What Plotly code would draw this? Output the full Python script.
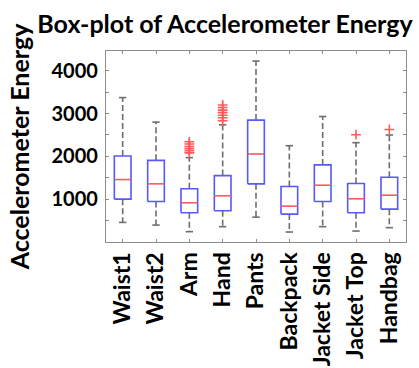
import plotly.graph_objects as go

categories = ["Waist1", "Waist2", "Arm", "Hand", "Pants", "Backpack", "Jacket Side", "Jacket Top", "Handbag"]
q1 = [1000, 947, 683, 730, 1358, 651, 947, 683, 767]
median = [1458, 1358, 916, 1079, 2055, 837, 1326, 1009, 1093]
q3 = [2009, 1907, 1242, 1551, 2847, 1295, 1800, 1365, 1512]
lower_whisker = [458, 395, 241, 358, 581, 233, 358, 256, 335]
upper_whisker = [3372, 2800, 1970, 2737, 4225, 2249, 2930, 2319, 2498]
outliers = {
    "Arm": [2080, 2130, 2180, 2230, 2290, 2340],
    "Hand": [2830, 2900, 2960, 3020, 3080, 3140, 3200],
    "Jacket Top": [2505],
    "Handbag": [2628],
}

BOX_HALF = 0.25
CAP_HALF = 0.11
BLUE = "#5858ff"
RED = "#ff5a5a"
GRAY = "#6e6e6e"

bx, by, mx, my, wx, wy, cx, cy = [], [], [], [], [], [], [], []
for i, c in enumerate(categories):
    p = i + 1
    bx += [p - BOX_HALF, p + BOX_HALF, p + BOX_HALF, p - BOX_HALF, p - BOX_HALF, None]
    by += [q1[i], q1[i], q3[i], q3[i], q1[i], None]
    mx += [p - BOX_HALF, p + BOX_HALF, None]
    my += [median[i], median[i], None]
    wx += [p, p, None, p, p, None]
    wy += [q3[i], upper_whisker[i], None, q1[i], lower_whisker[i], None]
    cx += [p - CAP_HALF, p + CAP_HALF, None, p - CAP_HALF, p + CAP_HALF, None]
    cy += [upper_whisker[i], upper_whisker[i], None, lower_whisker[i], lower_whisker[i], None]

ox, oy = [], []
for c, vals in outliers.items():
    p = categories.index(c) + 1
    for v in vals:
        ox.append(p)
        oy.append(v)

fig = go.Figure()
fig.add_trace(go.Scatter(x=wx, y=wy, mode="lines", line=dict(color=GRAY, width=1.6, dash="6px,3px"), hoverinfo="skip"))
fig.add_trace(go.Scatter(x=cx, y=cy, mode="lines", line=dict(color=GRAY, width=1.6), hoverinfo="skip"))
fig.add_trace(go.Scatter(x=bx, y=by, mode="lines", line=dict(color=BLUE, width=1.6), hoverinfo="skip"))
fig.add_trace(go.Scatter(x=mx, y=my, mode="lines", line=dict(color=RED, width=1.6), hoverinfo="skip"))
fig.add_trace(go.Scatter(x=ox, y=oy, mode="markers",
                         marker=dict(symbol="cross-thin-open", size=7, color=RED, line=dict(color=RED, width=1.6)),
                         hoverinfo="skip"))

font_family = "Lato"
fig.update_layout(
    width=419, height=368,
    margin=dict(l=106, r=13, t=51, b=126, autoexpand=False),
    paper_bgcolor="white", plot_bgcolor="white",
    showlegend=False,
    title=dict(text="<b>Box-plot of Accelerometer Energy</b>", x=0.537, xanchor="center",
               y=0.935, yanchor="middle", automargin=False,
               font=dict(family=font_family, size=25, color="black")),
    font=dict(family=font_family, color="black"),
)
fig.update_xaxes(
    range=[0.5, len(categories) + 0.5],
    tickmode="array", tickvals=list(range(1, len(categories) + 1)),
    ticktext=[f"<b>{c}</b>" for c in categories],
    tickangle=-90, tickfont=dict(family=font_family, size=23, color="black"),
    showline=True, linecolor="#8c8c8c", linewidth=1.2, mirror="ticks",
    ticks="inside", ticklen=3, tickcolor="#8c8c8c",
    showgrid=False, zeroline=False, automargin=False,
)
fig.update_yaxes(
    range=[0, 4460],
    tickmode="array", tickvals=[1000, 2000, 3000, 4000],
    ticktext=["<b>1000</b>", "<b>2000</b>", "<b>3000</b>", "<b>4000</b>"],
    tickfont=dict(family=font_family, size=20, color="black"),
    ticklabelstandoff=3,
    title=dict(text="<b>Accelerometer Energy</b>", font=dict(family=font_family, size=25, color="black"), standoff=14),
    showline=True, linecolor="#8c8c8c", linewidth=1.2, mirror="ticks",
    ticks="inside", ticklen=3, tickcolor="#8c8c8c",
    minor=dict(ticks="inside", ticklen=3, tickcolor="#8c8c8c", tickvals=[500, 1500, 2500, 3500]),
    showgrid=False, zeroline=False, automargin=False,
)

fig.write_html("out.html")
